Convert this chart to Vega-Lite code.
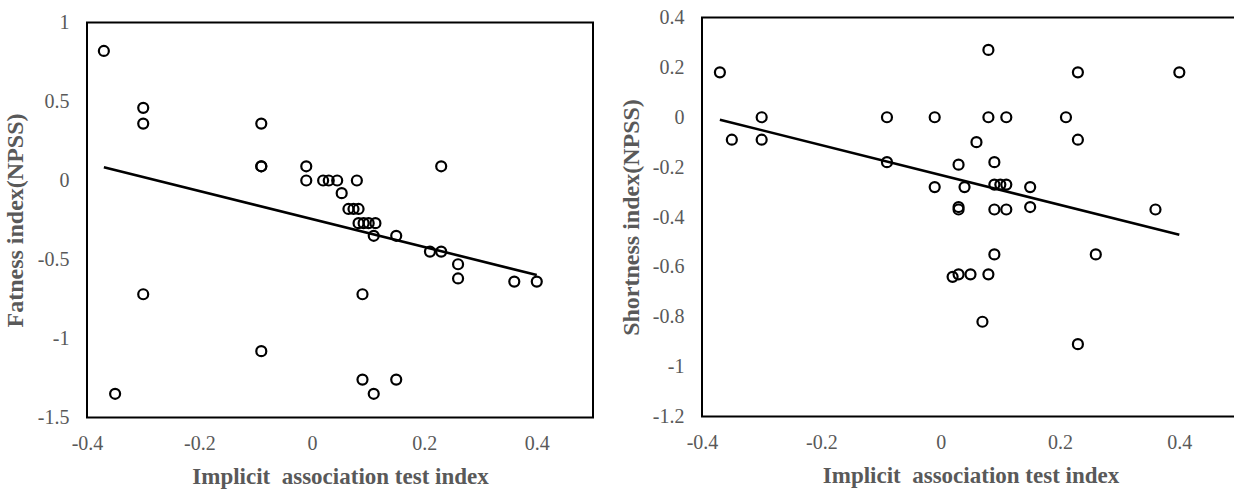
{
  "$schema": "https://vega.github.io/schema/vega-lite/v6.json",
  "background": "white",
  "padding": {"left": 3, "top": 6.5, "right": 0, "bottom": 0},
  "spacing": 24,
  "config": {
    "view": {"stroke": "black", "strokeWidth": 2},
    "axis": {
      "grid": false, "ticks": false, "domain": false, "labelFlush": false,
      "labelFont": "Liberation Serif", "labelFontSize": 20, "labelColor": "#595959", "labelPadding": 18,
      "titleFont": "Liberation Serif", "titleFontSize": 23, "titleFontWeight": "bold", "titleColor": "#595959",
      "labelExpr": "datum.value < 0 ? '-' + format(-datum.value, '~g') : format(datum.value, '~g')"
    },
    "axisX": {"labelPadding": 16, "titlePadding": 12},
    "axisY": {"titleFontSize": 24, "titlePadding": 10}
  },
  "datasets": {
    "fat": [
      {"iat": -0.37, "v": 0.82}, {"iat": -0.30, "v": 0.46}, {"iat": -0.30, "v": 0.36}, {"iat": -0.09, "v": 0.36},
      {"iat": -0.09, "v": 0.09}, {"iat": -0.09, "v": 0.09}, {"iat": -0.01, "v": 0.09}, {"iat": -0.01, "v": 0.0},
      {"iat": 0.02, "v": 0.0}, {"iat": 0.03, "v": 0.0}, {"iat": 0.045, "v": 0.0}, {"iat": 0.08, "v": 0.0},
      {"iat": 0.053, "v": -0.08}, {"iat": 0.065, "v": -0.18}, {"iat": 0.074, "v": -0.18}, {"iat": 0.083, "v": -0.18},
      {"iat": 0.083, "v": -0.27}, {"iat": 0.092, "v": -0.27}, {"iat": 0.101, "v": -0.27}, {"iat": 0.113, "v": -0.27},
      {"iat": 0.11, "v": -0.35}, {"iat": 0.15, "v": -0.35}, {"iat": 0.23, "v": 0.09}, {"iat": 0.21, "v": -0.45},
      {"iat": 0.23, "v": -0.45}, {"iat": 0.26, "v": -0.53}, {"iat": 0.26, "v": -0.62}, {"iat": 0.36, "v": -0.64},
      {"iat": 0.40, "v": -0.64}, {"iat": 0.09, "v": -0.72}, {"iat": 0.09, "v": -1.26}, {"iat": 0.11, "v": -1.35},
      {"iat": 0.15, "v": -1.26}, {"iat": -0.30, "v": -0.72}, {"iat": -0.09, "v": -1.08}, {"iat": -0.35, "v": -1.35}
    ],
    "fatline": [{"iat": -0.37, "v": 0.084}, {"iat": 0.40, "v": -0.598}],
    "short": [
      {"iat": -0.37, "v": 0.18}, {"iat": -0.35, "v": -0.09}, {"iat": -0.30, "v": 0.0}, {"iat": -0.30, "v": -0.09},
      {"iat": -0.09, "v": 0.0}, {"iat": -0.09, "v": -0.18}, {"iat": 0.08, "v": 0.27}, {"iat": 0.23, "v": 0.18},
      {"iat": 0.40, "v": 0.18}, {"iat": -0.01, "v": 0.0}, {"iat": 0.08, "v": 0.0}, {"iat": 0.11, "v": 0.0},
      {"iat": 0.21, "v": 0.0}, {"iat": 0.23, "v": -0.09}, {"iat": 0.06, "v": -0.10}, {"iat": 0.03, "v": -0.19},
      {"iat": 0.09, "v": -0.18}, {"iat": -0.01, "v": -0.28}, {"iat": 0.04, "v": -0.28}, {"iat": 0.09, "v": -0.27},
      {"iat": 0.10, "v": -0.27}, {"iat": 0.11, "v": -0.27}, {"iat": 0.15, "v": -0.28}, {"iat": 0.15, "v": -0.36},
      {"iat": 0.03, "v": -0.36}, {"iat": 0.03, "v": -0.37}, {"iat": 0.09, "v": -0.37}, {"iat": 0.11, "v": -0.37},
      {"iat": 0.36, "v": -0.37}, {"iat": 0.09, "v": -0.55}, {"iat": 0.26, "v": -0.55}, {"iat": 0.02, "v": -0.64},
      {"iat": 0.03, "v": -0.63}, {"iat": 0.05, "v": -0.63}, {"iat": 0.08, "v": -0.63}, {"iat": 0.07, "v": -0.82},
      {"iat": 0.23, "v": -0.91}
    ],
    "shortline": [{"iat": -0.37, "v": -0.01}, {"iat": 0.40, "v": -0.471}]
  },
  "hconcat": [
    {
      "width": 506, "height": 400,
      "view": {"stroke": null},
      "layer": [
        {
          "data": {"values": [{}]},
          "mark": {"type": "rect", "fill": null, "stroke": "black", "strokeWidth": 2},
          "encoding": {
            "x": {"datum": -0.4, "type": "quantitative"},
            "x2": {"datum": 0.5},
            "y": {"datum": -1.5, "type": "quantitative"},
            "y2": {"datum": 1}
          }
        },
        {
          "data": {"name": "fat"},
          "mark": {"type": "point", "shape": "circle", "filled": false, "stroke": "black", "strokeWidth": 2.2, "size": 100, "opacity": 1},
          "encoding": {
            "x": {"field": "iat", "type": "quantitative", "scale": {"domain": [-0.4, 0.5], "nice": false, "zero": false},
                  "axis": {"values": [-0.4, -0.2, 0, 0.2, 0.4], "title": "Implicit\u00a0 association test index"}},
            "y": {"field": "v", "type": "quantitative", "scale": {"domain": [-1.5, 1], "range": [400, 5], "nice": false, "zero": false},
                  "axis": {"values": [-1.5, -1, -0.5, 0, 0.5, 1], "title": "Fatness index(NPSS)"}}
          }
        },
        {
          "data": {"name": "fatline"},
          "mark": {"type": "line", "color": "black", "strokeWidth": 2.6},
          "encoding": {
            "x": {"field": "iat", "type": "quantitative"},
            "y": {"field": "v", "type": "quantitative"}
          }
        }
      ]
    },
    {
      "width": 537, "height": 399,
      "layer": [
        {
          "data": {"name": "short"},
          "mark": {"type": "point", "shape": "circle", "filled": false, "stroke": "black", "strokeWidth": 2.2, "size": 100, "opacity": 1},
          "encoding": {
            "x": {"field": "iat", "type": "quantitative", "scale": {"domain": [-0.4, 0.5], "nice": false, "zero": false},
                  "axis": {"values": [-0.4, -0.2, 0, 0.2, 0.4], "title": "Implicit\u00a0 association test index"}},
            "y": {"field": "v", "type": "quantitative", "scale": {"domain": [-1.2, 0.4], "nice": false, "zero": false},
                  "axis": {"values": [-1.2, -1, -0.8, -0.6, -0.4, -0.2, 0, 0.2, 0.4], "title": "Shortness index(NPSS)", "titlePadding": 9}}
          }
        },
        {
          "data": {"name": "shortline"},
          "mark": {"type": "line", "color": "black", "strokeWidth": 2.6},
          "encoding": {
            "x": {"field": "iat", "type": "quantitative"},
            "y": {"field": "v", "type": "quantitative"}
          }
        }
      ]
    }
  ]
}
